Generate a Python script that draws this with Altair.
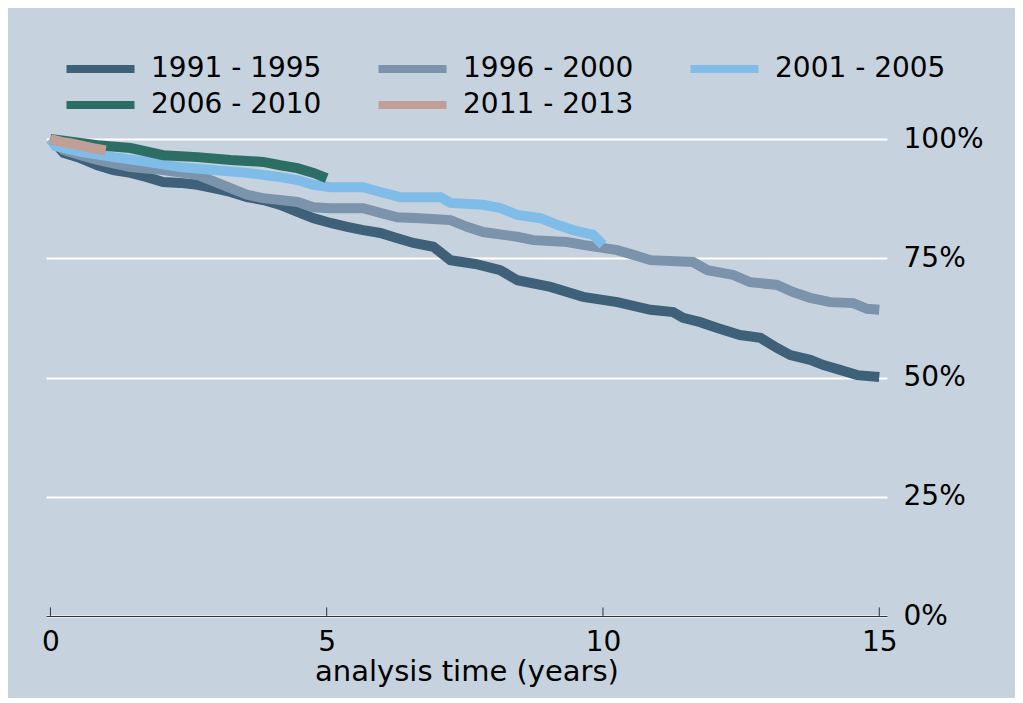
import altair as alt
import pandas as pd

# Kaplan-Meier survival estimates (time in years, survival share)
t_9195 = [0, 0.13, 0.24, 0.54, 0.85, 1.14, 1.45, 1.75, 2.04, 2.35, 2.66, 2.95, 3.26, 3.56, 3.85,
          4.16, 4.47, 4.76, 5.07, 5.37, 5.66, 5.97, 6.28, 6.57, 6.93, 7.24, 7.69, 8.14, 8.45, 9.05,
          9.64, 10.26, 10.86, 11.27, 11.45, 11.76, 12.07, 12.48, 12.85, 13.15, 13.39, 13.75, 13.99,
          14.29, 14.60, 15.0]
s_9195 = [1.0, 0.985, 0.971, 0.960, 0.945, 0.935, 0.929, 0.920, 0.910, 0.908, 0.904, 0.897, 0.889,
          0.878, 0.872, 0.862, 0.847, 0.834, 0.824, 0.816, 0.809, 0.803, 0.792, 0.782, 0.774, 0.746,
          0.738, 0.725, 0.704, 0.690, 0.669, 0.658, 0.642, 0.637, 0.625, 0.616, 0.604, 0.589, 0.583,
          0.562, 0.547, 0.537, 0.526, 0.516, 0.505, 0.501]

t_9600 = [0, 0.24, 0.54, 0.85, 1.45, 2.04, 2.66, 3.26, 3.56, 3.85, 4.47, 4.76, 5.07, 5.66, 5.97,
          6.28, 6.69, 7.24, 7.54, 7.83, 8.45, 8.74, 9.35, 9.64, 10.26, 10.55, 10.86, 11.63, 11.89,
          12.36, 12.66, 13.15, 13.44, 13.75, 14.11, 14.53, 14.78, 15.0]
s_9600 = [1.0, 0.977, 0.966, 0.956, 0.941, 0.935, 0.925, 0.897, 0.883, 0.876, 0.868, 0.857, 0.855,
          0.855, 0.845, 0.836, 0.834, 0.830, 0.816, 0.805, 0.795, 0.788, 0.784, 0.778, 0.767, 0.757,
          0.746, 0.742, 0.725, 0.715, 0.700, 0.694, 0.679, 0.667, 0.658, 0.656, 0.644, 0.642]

t_0105 = [0, 0.09, 0.54, 1.14, 1.75, 2.35, 2.95, 3.56, 4.16, 4.47, 4.76, 5.07, 5.66, 5.97, 6.33,
          7.06, 7.24, 7.83, 8.14, 8.45, 8.87, 9.17, 9.46, 9.82, 10.0]
s_0105 = [1.0, 0.985, 0.973, 0.962, 0.952, 0.941, 0.935, 0.929, 0.920, 0.914, 0.904, 0.899, 0.899,
          0.889, 0.878, 0.878, 0.866, 0.862, 0.855, 0.841, 0.834, 0.820, 0.809, 0.799, 0.778]

t_0610 = [0, 0.85, 1.45, 2.04, 2.66, 3.26, 3.85, 4.16, 4.47, 4.76, 5.0]
s_0610 = [1.0, 0.987, 0.981, 0.966, 0.962, 0.956, 0.952, 0.945, 0.939, 0.929, 0.918]

t_1113 = [0, 0.2, 0.4, 0.6, 0.8, 1.0]
s_1113 = [1.0, 0.994, 0.990, 0.985, 0.980, 0.976]

groups = ["1991 - 1995", "1996 - 2000", "2001 - 2005", "2006 - 2010", "2011 - 2013"]
colors = ["#3e6079", "#7b93ab", "#7fbde8", "#2d6e64", "#bf9f97"]

x_ticks = [0, 5, 10, 15]
y_ticks = [0, 0.25, 0.5, 0.75, 1.0]

rows = []
for g, ts, ss in zip(groups, [t_9195, t_9600, t_0105, t_0610, t_1113],
                     [s_9195, s_9600, s_0105, s_0610, s_1113]):
    for t, s in zip(ts, ss):
        rows.append({"group": g, "time": t, "surv": s, "order": groups.index(g)})
df = pd.DataFrame(rows)
ticks_df = pd.DataFrame({"time": x_ticks})

FONT = "DejaVu Sans"
BG = "#c6d3df"

xscale = alt.Scale(domain=[-0.08, 15.14], nice=False, zero=False)
yscale = alt.Scale(domain=[0, 1], nice=False)

lines = alt.Chart(df).mark_line(interpolate="linear", strokeWidth=10, clip=False,
                                strokeJoin="miter").encode(
    x=alt.X("time:Q", scale=xscale,
            axis=alt.Axis(values=x_ticks, format="d", title="analysis time (years)", grid=False,
                          tickSize=0, labelPadding=12, labelFontSize=28, labelFont=FONT,
                          labelColor="#000000", titleFont=FONT, titleFontSize=29,
                          titleFontWeight="normal", titleColor="#000000", titlePadding=1,
                          domainColor="#333333", domainWidth=1, labelFlush=False)),
    y=alt.Y("surv:Q", scale=yscale,
            axis=alt.Axis(values=y_ticks, format=".0%", orient="right", title=None,
                          domain=False, ticks=False, grid=True, gridColor="#ffffff",
                          gridWidth=2, labelPadding=16, labelFontSize=28, labelFont=FONT,
                          labelColor="#000000")),
    color=alt.Color("group:N", scale=alt.Scale(domain=groups, range=colors),
                    legend=alt.Legend(title=None, orient="none", legendX=40.5, legendY=-84,
                                      direction="horizontal", columns=3, padding=0,
                                      symbolType="M-4,0H4", symbolSize=289,
                                      symbolStrokeWidth=8, labelFontSize=28, labelFont=FONT,
                                      labelColor="#000000", labelOffset=36.5,
                                      columnPadding=41, rowPadding=4, labelLimit=400)),
    order=alt.Order("order:Q"),
)

ticks = alt.Chart(ticks_df).mark_rule(color="#333333", strokeWidth=1).encode(
    x=alt.X("time:Q", scale=xscale),
    y=alt.datum(0),
    y2=alt.datum(0.018),
)

chart = alt.layer(ticks, lines).properties(
    width=841, height=477,
    background=BG,
    padding={"left": 38, "top": 131, "right": 128, "bottom": 82},
    autosize=alt.AutoSizeParams(type="none"),
).configure_view(stroke=None, fill=BG)

chart.save("out.html", embed_options={"renderer": "svg", "actions": False})
